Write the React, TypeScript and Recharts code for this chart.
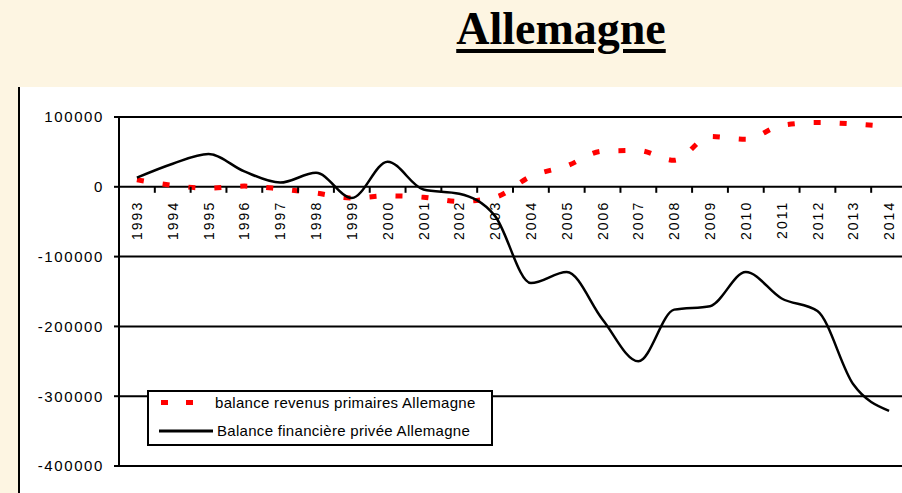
import * as React from 'react';
import { ComposedChart, Line, XAxis, YAxis, CartesianGrid } from 'recharts';

const years = [
  '1993', '1994', '1995', '1996', '1997', '1998', '1999', '2000', '2001', '2002', '2003',
  '2004', '2005', '2006', '2007', '2008', '2009', '2010', '2011', '2012', '2013', '2014',
];

// balance revenus primaires Allemagne
const revenusPrimaires = [
  10000, 2000, -2000, 1000, -3000, -9000, -16000, -13000, -15000, -21000, -15000,
  15000, 30000, 51000, 52000, 38000, 72000, 68000, 88000, 92000, 90000, 86000,
];

// Balance financière privée Allemagne
const balanceFinanciere = [
  13000, 33000, 47000, 22000, 6000, 20000, -16000, 36000, -4000, -10000, -42000,
  -138000, -122000, -190000, -250000, -176000, -171000, -122000, -160000, -178000, -283000, -321000,
];

const yTicks = [100000, 0, -100000, -200000, -300000, -400000];

const data = years.map((year, i) => ({
  year,
  revenus: revenusPrimaires[i],
  financiere: balanceFinanciere[i],
}));

const CHART_W = 910;
const CHART_H = 493;
const TOP = 117;
const X_AXIS_H = 1;
const BOTTOM = 26;
const AXIS_W = 119;
const RIGHT = 3;
const PLOT_H = CHART_H - TOP - BOTTOM - X_AXIS_H;
const ZERO_Y = TOP + PLOT_H * (100000 / 500000);
const BAND = (CHART_W - AXIS_W - RIGHT) / years.length;

const FONT = '"Liberation Sans", Arial, sans-serif';

const YearTick = (props: any) => {
  const { x, payload } = props;
  return (
    <g>
      <line x1={x + BAND / 2} y1={ZERO_Y} x2={x + BAND / 2} y2={ZERO_Y + 6} stroke="#000" strokeWidth={2} />
      <text
        transform={`translate(${x},${ZERO_Y + 14}) rotate(-90)`}
        textAnchor="end"
        dy="0.36em"
        fontSize={14}
        letterSpacing={2}
        fontFamily={FONT}
        fill="#000"
      >
        {payload.value}
      </text>
    </g>
  );
};

const LegendBox = () => (
  <div
    style={{
      position: 'absolute',
      left: 147,
      top: 390,
      width: 342,
      height: 52,
      border: '2px solid #000',
      background: '#fff',
      fontFamily: FONT,
      fontSize: 15,
      letterSpacing: 0.3,
      color: '#000',
    }}
  >
    <svg width={70} height={52} style={{ position: 'absolute', left: 0, top: 0 }}>
      <rect x={12} y={8} width={7} height={5} fill="#f00" />
      <rect x={37} y={8} width={7} height={5} fill="#f00" />
      <line x1={10} y1={39} x2={64} y2={39} stroke="#000" strokeWidth={3} />
    </svg>
    <div style={{ position: 'absolute', left: 66, top: 2, whiteSpace: 'nowrap' }}>
      balance revenus primaires Allemagne
    </div>
    <div style={{ position: 'absolute', left: 68, top: 30, whiteSpace: 'nowrap' }}>
      Balance financière privée Allemagne
    </div>
  </div>
);

export default function App() {
  return (
    <div
      style={{
        position: 'absolute',
        left: 0,
        top: 0,
        width: 902,
        height: 493,
        overflow: 'hidden',
        background: '#fdf5e2',
      }}
    >
      <div
        style={{
          position: 'absolute',
          left: 361,
          top: 5,
          width: 400,
          textAlign: 'center',
          fontFamily: '"Liberation Serif", "Times New Roman", serif',
          fontWeight: 'bold',
          fontSize: 46,
          lineHeight: '48px',
          textDecoration: 'underline',
          textDecorationThickness: 4,
          textUnderlineOffset: 5,
          color: '#000',
        }}
      >
        Allemagne
      </div>
      <div
        style={{
          position: 'absolute',
          left: 18,
          top: 87,
          right: 0,
          bottom: 0,
          background: '#fff',
          borderLeft: '2px solid #000',
        }}
      />
      <div style={{ position: 'absolute', left: 0, top: 0 }}>
        <ComposedChart
          width={CHART_W}
          height={CHART_H}
          data={data}
          margin={{ top: TOP, right: RIGHT, bottom: BOTTOM, left: 0 }}
        >
          <CartesianGrid horizontal vertical={false} stroke="#000" strokeWidth={2} />
          <XAxis
            dataKey="year"
            height={X_AXIS_H}
            axisLine={false}
            tickLine={false}
            interval={0}
            padding={{ left: BAND / 2, right: BAND / 2 }}
            tick={(p: any) => <YearTick {...p} />}
          />
          <YAxis
            width={AXIS_W}
            domain={[-400000, 100000]}
            ticks={yTicks}
            interval={0}
            axisLine={{ stroke: '#000', strokeWidth: 2 }}
            tickLine={{ stroke: '#000', strokeWidth: 2 }}
            tickSize={5}
            tickMargin={10}
            tick={{ fontSize: 15, fill: '#000', fontFamily: FONT, letterSpacing: 1.6 }}
          />
          <Line
            type="monotone"
            dataKey="revenus"
            stroke="#f00"
            strokeWidth={5}
            strokeDasharray="7 19"
            dot={false}
            isAnimationActive={false}
          />
          <Line
            type="monotone"
            dataKey="financiere"
            stroke="#000"
            strokeWidth={2.5}
            dot={false}
            isAnimationActive={false}
          />
        </ComposedChart>
      </div>
      <LegendBox />
    </div>
  );
}
